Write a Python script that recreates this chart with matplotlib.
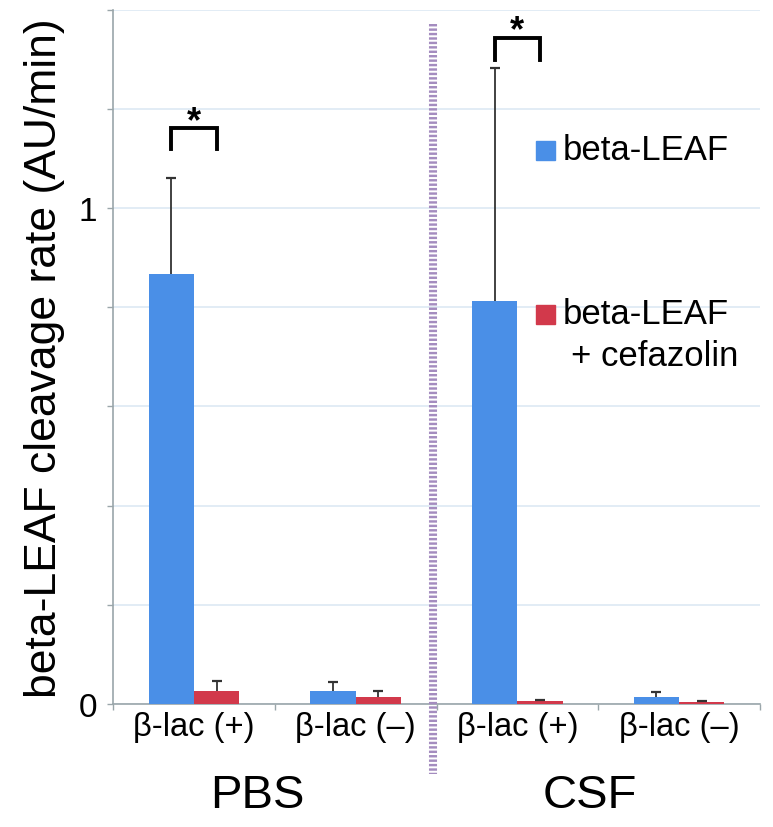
import matplotlib
matplotlib.use("Agg")
import matplotlib.pyplot as plt
import numpy as np
from matplotlib.lines import Line2D
from matplotlib.patches import Rectangle

plt.rcParams['font.family'] = ['Liberation Sans', 'DejaVu Sans']

categories = ["β-lac (+)", "β-lac (–)", "β-lac (+)", "β-lac (–)"]
groups = ["PBS", "CSF"]
series_names = ["beta-LEAF", "beta-LEAF\n+ cefazolin"]
leaf = [0.867, 0.026, 0.8125, 0.014]
leaf_err = [0.193, 0.018, 0.47, 0.010]
cef = [0.026, 0.014, 0.006, 0.004]
cef_err = [0.020, 0.012, 0.003, 0.003]

blue = "#4a8fe7"
red = "#d2394b"

fig = plt.figure(figsize=(7.73, 8.28), dpi=100)
ax = fig.add_axes([113/773, 1-705/828, (760-113)/773, (705-10.6)/828])

x = np.arange(len(categories))
w = 0.28
ax.bar(x - w/2, leaf, w, color=blue, zorder=3)
ax.bar(x + w/2, cef, w, color=red, zorder=3)

def upper_err(xs, vals, errs):
    vals = np.asarray(vals); errs = np.asarray(errs)
    ax.errorbar(xs, vals, yerr=[np.zeros_like(errs), errs], fmt='none',
                ecolor="#333333", elinewidth=1.3, capsize=0, zorder=4)
    ax.plot(xs, vals + errs, ls='none', marker='_', ms=7, mew=1.6, color="#333333", zorder=4)

upper_err(x - w/2, leaf, leaf_err)
upper_err(x + w/2, cef, cef_err)

ax.set_xlim(-0.5, 3.48)
ax.set_ylim(0, 1.4)
yt = np.arange(0, 1.41, 0.2)
ax.set_yticks(yt)
ax.set_yticklabels(["0" if abs(v) < 1e-9 else ("1" if abs(v-1) < 1e-9 else "") for v in yt], fontsize=24)
ax.yaxis.grid(True, color="#dde9f3", linewidth=1.2, zorder=0)
ax.set_axisbelow(True)
ax.tick_params(axis='y', length=4.5, width=1, color="#9aa6aa", pad=7)
ax.set_xticks(x)
ax.set_xticklabels(categories, fontsize=23.5)
ax.set_xticks(np.arange(-0.5, 3.6, 1.0), minor=True)
ax.tick_params(axis='x', which='major', length=0, pad=5)
ax.tick_params(axis='x', which='minor', length=4, width=1, color="#9aa6aa")
for s in ["top", "right"]:
    ax.spines[s].set_visible(False)
for s in ["left", "bottom"]:
    ax.spines[s].set_color("#9aa6aa")
    ax.spines[s].set_linewidth(1.2)

ax.set_ylabel("beta-LEAF cleavage rate (AU/min)", fontsize=32, labelpad=10)

# significance brackets
def bracket(xc, y0, y1, ys):
    ax.plot([xc - w/2, xc - w/2, xc + w/2, xc + w/2], [y0, y1, y1, y0],
            color="black", lw=2.8, solid_joinstyle='miter', zorder=4, clip_on=False)
    ax.text(xc, ys, "*", ha="center", va="center", fontsize=26, fontweight="bold", clip_on=False)

bracket(0, 1.119, 1.161, 1.175)
bracket(2, 1.298, 1.343, 1.357)

# divider
fig.add_artist(Line2D([433/773, 433/773], [1-25/828, 1-775/828], color="#a48cbf",
                      lw=5.8, dashes=(0.3, 0.25), transform=fig.transFigure))

# group labels
fig.text(257/773, 1-796/828, groups[0], ha="center", va="center", fontsize=34)
fig.text(590/773, 1-796/828, groups[1], ha="center", va="center", fontsize=34)

# legend
fig.add_artist(Rectangle((536/773, 1-161/828), 19/773, 19/828, color=blue, transform=fig.transFigure))
fig.text(563/773, 1-151/828, series_names[0], ha="left", va="center", fontsize=25)
fig.add_artist(Rectangle((536/773, 1-325/828), 19/773, 19/828, color=red, transform=fig.transFigure))
fig.text(563/773, 1-315/828, "beta-LEAF", ha="left", va="center", fontsize=25)
fig.text(571/773, 1-357/828, "+ cefazolin", ha="left", va="center", fontsize=25)

fig.savefig("out.png", dpi=100)
